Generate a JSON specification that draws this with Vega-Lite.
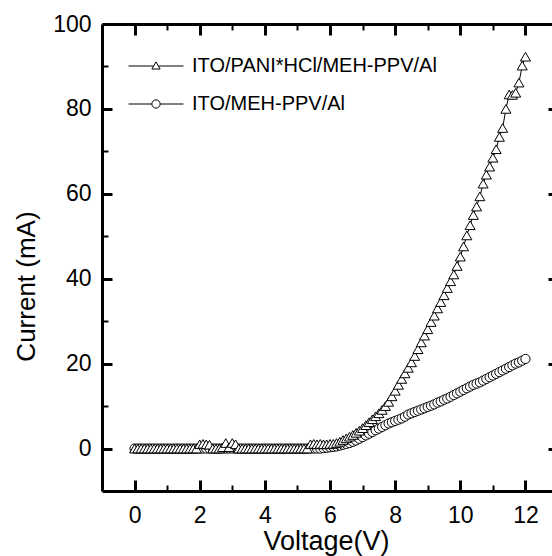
{
  "$schema": "https://vega.github.io/schema/vega-lite/v6.json",
  "width": 450,
  "height": 467,
  "autosize": {"type": "none"},
  "padding": {"left": 102, "top": 24, "right": 0, "bottom": 65},
  "background": "white",
  "config": {
    "view": {"stroke": null},
    "axis": {"labelFont": "Liberation Sans", "titleFont": "Liberation Sans", "labelColor": "black", "titleColor": "black", "domainColor": "black", "grid": false, "titleFontWeight": "normal"}
  },
  "data": {"values": [
    {"v":0,"i":0,"d":"ITO/PANI*HCl/MEH-PPV/Al"},{"v":0.1,"i":0,"d":"ITO/PANI*HCl/MEH-PPV/Al"},{"v":0.2,"i":0,"d":"ITO/PANI*HCl/MEH-PPV/Al"},{"v":0.3,"i":0,"d":"ITO/PANI*HCl/MEH-PPV/Al"},{"v":0.4,"i":0,"d":"ITO/PANI*HCl/MEH-PPV/Al"},{"v":0.5,"i":0,"d":"ITO/PANI*HCl/MEH-PPV/Al"},{"v":0.6,"i":0,"d":"ITO/PANI*HCl/MEH-PPV/Al"},{"v":0.7,"i":0,"d":"ITO/PANI*HCl/MEH-PPV/Al"},{"v":0.8,"i":0,"d":"ITO/PANI*HCl/MEH-PPV/Al"},{"v":0.9,"i":0,"d":"ITO/PANI*HCl/MEH-PPV/Al"},
    {"v":1,"i":0,"d":"ITO/PANI*HCl/MEH-PPV/Al"},{"v":1.1,"i":0,"d":"ITO/PANI*HCl/MEH-PPV/Al"},{"v":1.2,"i":0,"d":"ITO/PANI*HCl/MEH-PPV/Al"},{"v":1.3,"i":0,"d":"ITO/PANI*HCl/MEH-PPV/Al"},{"v":1.4,"i":0,"d":"ITO/PANI*HCl/MEH-PPV/Al"},{"v":1.5,"i":0,"d":"ITO/PANI*HCl/MEH-PPV/Al"},{"v":1.6,"i":0,"d":"ITO/PANI*HCl/MEH-PPV/Al"},{"v":1.7,"i":0,"d":"ITO/PANI*HCl/MEH-PPV/Al"},{"v":1.8,"i":0,"d":"ITO/PANI*HCl/MEH-PPV/Al"},{"v":1.9,"i":0,"d":"ITO/PANI*HCl/MEH-PPV/Al"},
    {"v":2,"i":1.0,"d":"ITO/PANI*HCl/MEH-PPV/Al"},{"v":2.1,"i":1.1,"d":"ITO/PANI*HCl/MEH-PPV/Al"},{"v":2.2,"i":1.0,"d":"ITO/PANI*HCl/MEH-PPV/Al"},{"v":2.3,"i":0.9,"d":"ITO/PANI*HCl/MEH-PPV/Al"},{"v":2.4,"i":0,"d":"ITO/PANI*HCl/MEH-PPV/Al"},{"v":2.5,"i":0,"d":"ITO/PANI*HCl/MEH-PPV/Al"},{"v":2.6,"i":0,"d":"ITO/PANI*HCl/MEH-PPV/Al"},{"v":2.7,"i":0.3,"d":"ITO/PANI*HCl/MEH-PPV/Al"},{"v":2.8,"i":1.3,"d":"ITO/PANI*HCl/MEH-PPV/Al"},{"v":2.9,"i":0.3,"d":"ITO/PANI*HCl/MEH-PPV/Al"},
    {"v":3,"i":1.3,"d":"ITO/PANI*HCl/MEH-PPV/Al"},{"v":3.1,"i":1.0,"d":"ITO/PANI*HCl/MEH-PPV/Al"},{"v":3.2,"i":0,"d":"ITO/PANI*HCl/MEH-PPV/Al"},{"v":3.3,"i":0,"d":"ITO/PANI*HCl/MEH-PPV/Al"},{"v":3.4,"i":0,"d":"ITO/PANI*HCl/MEH-PPV/Al"},{"v":3.5,"i":0,"d":"ITO/PANI*HCl/MEH-PPV/Al"},{"v":3.6,"i":0,"d":"ITO/PANI*HCl/MEH-PPV/Al"},{"v":3.7,"i":0,"d":"ITO/PANI*HCl/MEH-PPV/Al"},{"v":3.8,"i":0,"d":"ITO/PANI*HCl/MEH-PPV/Al"},{"v":3.9,"i":0,"d":"ITO/PANI*HCl/MEH-PPV/Al"},
    {"v":4,"i":0,"d":"ITO/PANI*HCl/MEH-PPV/Al"},{"v":4.1,"i":0,"d":"ITO/PANI*HCl/MEH-PPV/Al"},{"v":4.2,"i":0,"d":"ITO/PANI*HCl/MEH-PPV/Al"},{"v":4.3,"i":0,"d":"ITO/PANI*HCl/MEH-PPV/Al"},{"v":4.4,"i":0,"d":"ITO/PANI*HCl/MEH-PPV/Al"},{"v":4.5,"i":0,"d":"ITO/PANI*HCl/MEH-PPV/Al"},{"v":4.6,"i":0,"d":"ITO/PANI*HCl/MEH-PPV/Al"},{"v":4.7,"i":0,"d":"ITO/PANI*HCl/MEH-PPV/Al"},{"v":4.8,"i":0,"d":"ITO/PANI*HCl/MEH-PPV/Al"},{"v":4.9,"i":0,"d":"ITO/PANI*HCl/MEH-PPV/Al"},
    {"v":5,"i":0,"d":"ITO/PANI*HCl/MEH-PPV/Al"},{"v":5.1,"i":0,"d":"ITO/PANI*HCl/MEH-PPV/Al"},{"v":5.2,"i":0,"d":"ITO/PANI*HCl/MEH-PPV/Al"},{"v":5.3,"i":0,"d":"ITO/PANI*HCl/MEH-PPV/Al"},{"v":5.4,"i":1.0,"d":"ITO/PANI*HCl/MEH-PPV/Al"},{"v":5.5,"i":1.1,"d":"ITO/PANI*HCl/MEH-PPV/Al"},{"v":5.6,"i":1.0,"d":"ITO/PANI*HCl/MEH-PPV/Al"},{"v":5.7,"i":1.1,"d":"ITO/PANI*HCl/MEH-PPV/Al"},{"v":5.8,"i":1.0,"d":"ITO/PANI*HCl/MEH-PPV/Al"},{"v":5.9,"i":1.0,"d":"ITO/PANI*HCl/MEH-PPV/Al"},
    {"v":6,"i":1.1,"d":"ITO/PANI*HCl/MEH-PPV/Al"},{"v":6.1,"i":1.1,"d":"ITO/PANI*HCl/MEH-PPV/Al"},{"v":6.2,"i":1.3,"d":"ITO/PANI*HCl/MEH-PPV/Al"},{"v":6.3,"i":1.6,"d":"ITO/PANI*HCl/MEH-PPV/Al"},{"v":6.4,"i":2.0,"d":"ITO/PANI*HCl/MEH-PPV/Al"},{"v":6.5,"i":2.4,"d":"ITO/PANI*HCl/MEH-PPV/Al"},{"v":6.6,"i":2.8,"d":"ITO/PANI*HCl/MEH-PPV/Al"},{"v":6.7,"i":3.2,"d":"ITO/PANI*HCl/MEH-PPV/Al"},{"v":6.8,"i":3.7,"d":"ITO/PANI*HCl/MEH-PPV/Al"},{"v":6.9,"i":4.2,"d":"ITO/PANI*HCl/MEH-PPV/Al"},
    {"v":7,"i":4.8,"d":"ITO/PANI*HCl/MEH-PPV/Al"},{"v":7.1,"i":5.5,"d":"ITO/PANI*HCl/MEH-PPV/Al"},{"v":7.2,"i":6.2,"d":"ITO/PANI*HCl/MEH-PPV/Al"},{"v":7.3,"i":6.9,"d":"ITO/PANI*HCl/MEH-PPV/Al"},{"v":7.4,"i":7.6,"d":"ITO/PANI*HCl/MEH-PPV/Al"},{"v":7.5,"i":8.3,"d":"ITO/PANI*HCl/MEH-PPV/Al"},{"v":7.6,"i":9.1,"d":"ITO/PANI*HCl/MEH-PPV/Al"},{"v":7.7,"i":10.0,"d":"ITO/PANI*HCl/MEH-PPV/Al"},{"v":7.8,"i":11.0,"d":"ITO/PANI*HCl/MEH-PPV/Al"},{"v":7.9,"i":12.3,"d":"ITO/PANI*HCl/MEH-PPV/Al"},
    {"v":8,"i":13.6,"d":"ITO/PANI*HCl/MEH-PPV/Al"},{"v":8.1,"i":15.0,"d":"ITO/PANI*HCl/MEH-PPV/Al"},{"v":8.2,"i":16.4,"d":"ITO/PANI*HCl/MEH-PPV/Al"},{"v":8.3,"i":17.7,"d":"ITO/PANI*HCl/MEH-PPV/Al"},{"v":8.4,"i":19.0,"d":"ITO/PANI*HCl/MEH-PPV/Al"},{"v":8.5,"i":20.3,"d":"ITO/PANI*HCl/MEH-PPV/Al"},{"v":8.6,"i":21.8,"d":"ITO/PANI*HCl/MEH-PPV/Al"},{"v":8.7,"i":23.4,"d":"ITO/PANI*HCl/MEH-PPV/Al"},{"v":8.8,"i":25.0,"d":"ITO/PANI*HCl/MEH-PPV/Al"},{"v":8.9,"i":26.6,"d":"ITO/PANI*HCl/MEH-PPV/Al"},
    {"v":9,"i":28.1,"d":"ITO/PANI*HCl/MEH-PPV/Al"},{"v":9.1,"i":29.8,"d":"ITO/PANI*HCl/MEH-PPV/Al"},{"v":9.2,"i":31.3,"d":"ITO/PANI*HCl/MEH-PPV/Al"},{"v":9.3,"i":33.0,"d":"ITO/PANI*HCl/MEH-PPV/Al"},{"v":9.4,"i":34.5,"d":"ITO/PANI*HCl/MEH-PPV/Al"},{"v":9.5,"i":36.1,"d":"ITO/PANI*HCl/MEH-PPV/Al"},{"v":9.6,"i":37.8,"d":"ITO/PANI*HCl/MEH-PPV/Al"},{"v":9.7,"i":39.4,"d":"ITO/PANI*HCl/MEH-PPV/Al"},{"v":9.8,"i":41.0,"d":"ITO/PANI*HCl/MEH-PPV/Al"},{"v":9.9,"i":43.0,"d":"ITO/PANI*HCl/MEH-PPV/Al"},
    {"v":10,"i":45.2,"d":"ITO/PANI*HCl/MEH-PPV/Al"},{"v":10.1,"i":47.6,"d":"ITO/PANI*HCl/MEH-PPV/Al"},{"v":10.2,"i":50.2,"d":"ITO/PANI*HCl/MEH-PPV/Al"},{"v":10.3,"i":52.6,"d":"ITO/PANI*HCl/MEH-PPV/Al"},{"v":10.4,"i":55.0,"d":"ITO/PANI*HCl/MEH-PPV/Al"},{"v":10.5,"i":57.0,"d":"ITO/PANI*HCl/MEH-PPV/Al"},{"v":10.6,"i":59.4,"d":"ITO/PANI*HCl/MEH-PPV/Al"},{"v":10.7,"i":62.4,"d":"ITO/PANI*HCl/MEH-PPV/Al"},{"v":10.8,"i":64.5,"d":"ITO/PANI*HCl/MEH-PPV/Al"},{"v":10.9,"i":66.4,"d":"ITO/PANI*HCl/MEH-PPV/Al"},
    {"v":11,"i":68.5,"d":"ITO/PANI*HCl/MEH-PPV/Al"},{"v":11.1,"i":70.5,"d":"ITO/PANI*HCl/MEH-PPV/Al"},{"v":11.2,"i":73.4,"d":"ITO/PANI*HCl/MEH-PPV/Al"},{"v":11.3,"i":75.5,"d":"ITO/PANI*HCl/MEH-PPV/Al"},{"v":11.4,"i":80.0,"d":"ITO/PANI*HCl/MEH-PPV/Al"},{"v":11.5,"i":83.4,"d":"ITO/PANI*HCl/MEH-PPV/Al"},{"v":11.6,"i":83.3,"d":"ITO/PANI*HCl/MEH-PPV/Al"},{"v":11.7,"i":83.8,"d":"ITO/PANI*HCl/MEH-PPV/Al"},{"v":11.8,"i":86.2,"d":"ITO/PANI*HCl/MEH-PPV/Al"},{"v":11.9,"i":90.2,"d":"ITO/PANI*HCl/MEH-PPV/Al"},
    {"v":12,"i":92.3,"d":"ITO/PANI*HCl/MEH-PPV/Al"},
    {"v":0,"i":0,"d":"ITO/MEH-PPV/Al"},{"v":0.1,"i":0,"d":"ITO/MEH-PPV/Al"},{"v":0.2,"i":0,"d":"ITO/MEH-PPV/Al"},{"v":0.3,"i":0,"d":"ITO/MEH-PPV/Al"},{"v":0.4,"i":0,"d":"ITO/MEH-PPV/Al"},{"v":0.5,"i":0,"d":"ITO/MEH-PPV/Al"},{"v":0.6,"i":0,"d":"ITO/MEH-PPV/Al"},{"v":0.7,"i":0,"d":"ITO/MEH-PPV/Al"},{"v":0.8,"i":0,"d":"ITO/MEH-PPV/Al"},{"v":0.9,"i":0,"d":"ITO/MEH-PPV/Al"},
    {"v":1,"i":0,"d":"ITO/MEH-PPV/Al"},{"v":1.1,"i":0,"d":"ITO/MEH-PPV/Al"},{"v":1.2,"i":0,"d":"ITO/MEH-PPV/Al"},{"v":1.3,"i":0,"d":"ITO/MEH-PPV/Al"},{"v":1.4,"i":0,"d":"ITO/MEH-PPV/Al"},{"v":1.5,"i":0,"d":"ITO/MEH-PPV/Al"},{"v":1.6,"i":0,"d":"ITO/MEH-PPV/Al"},{"v":1.7,"i":0,"d":"ITO/MEH-PPV/Al"},{"v":1.8,"i":0,"d":"ITO/MEH-PPV/Al"},{"v":1.9,"i":0,"d":"ITO/MEH-PPV/Al"},
    {"v":2,"i":0,"d":"ITO/MEH-PPV/Al"},{"v":2.1,"i":0,"d":"ITO/MEH-PPV/Al"},{"v":2.2,"i":0,"d":"ITO/MEH-PPV/Al"},{"v":2.3,"i":0,"d":"ITO/MEH-PPV/Al"},{"v":2.4,"i":0,"d":"ITO/MEH-PPV/Al"},{"v":2.5,"i":0,"d":"ITO/MEH-PPV/Al"},{"v":2.6,"i":0,"d":"ITO/MEH-PPV/Al"},{"v":2.7,"i":0,"d":"ITO/MEH-PPV/Al"},{"v":2.8,"i":0,"d":"ITO/MEH-PPV/Al"},{"v":2.9,"i":0,"d":"ITO/MEH-PPV/Al"},
    {"v":3,"i":0,"d":"ITO/MEH-PPV/Al"},{"v":3.1,"i":0,"d":"ITO/MEH-PPV/Al"},{"v":3.2,"i":0,"d":"ITO/MEH-PPV/Al"},{"v":3.3,"i":0,"d":"ITO/MEH-PPV/Al"},{"v":3.4,"i":0,"d":"ITO/MEH-PPV/Al"},{"v":3.5,"i":0,"d":"ITO/MEH-PPV/Al"},{"v":3.6,"i":0,"d":"ITO/MEH-PPV/Al"},{"v":3.7,"i":0,"d":"ITO/MEH-PPV/Al"},{"v":3.8,"i":0,"d":"ITO/MEH-PPV/Al"},{"v":3.9,"i":0,"d":"ITO/MEH-PPV/Al"},
    {"v":4,"i":0,"d":"ITO/MEH-PPV/Al"},{"v":4.1,"i":0,"d":"ITO/MEH-PPV/Al"},{"v":4.2,"i":0,"d":"ITO/MEH-PPV/Al"},{"v":4.3,"i":0,"d":"ITO/MEH-PPV/Al"},{"v":4.4,"i":0,"d":"ITO/MEH-PPV/Al"},{"v":4.5,"i":0,"d":"ITO/MEH-PPV/Al"},{"v":4.6,"i":0,"d":"ITO/MEH-PPV/Al"},{"v":4.7,"i":0,"d":"ITO/MEH-PPV/Al"},{"v":4.8,"i":0,"d":"ITO/MEH-PPV/Al"},{"v":4.9,"i":0,"d":"ITO/MEH-PPV/Al"},
    {"v":5,"i":0,"d":"ITO/MEH-PPV/Al"},{"v":5.1,"i":0,"d":"ITO/MEH-PPV/Al"},{"v":5.2,"i":0,"d":"ITO/MEH-PPV/Al"},{"v":5.3,"i":0,"d":"ITO/MEH-PPV/Al"},{"v":5.4,"i":0,"d":"ITO/MEH-PPV/Al"},{"v":5.5,"i":0,"d":"ITO/MEH-PPV/Al"},{"v":5.6,"i":0,"d":"ITO/MEH-PPV/Al"},{"v":5.7,"i":0,"d":"ITO/MEH-PPV/Al"},{"v":5.8,"i":0.1,"d":"ITO/MEH-PPV/Al"},{"v":5.9,"i":0.2,"d":"ITO/MEH-PPV/Al"},
    {"v":6,"i":0.3,"d":"ITO/MEH-PPV/Al"},{"v":6.1,"i":0.4,"d":"ITO/MEH-PPV/Al"},{"v":6.2,"i":0.5,"d":"ITO/MEH-PPV/Al"},{"v":6.3,"i":0.7,"d":"ITO/MEH-PPV/Al"},{"v":6.4,"i":0.9,"d":"ITO/MEH-PPV/Al"},{"v":6.5,"i":1.1,"d":"ITO/MEH-PPV/Al"},{"v":6.6,"i":1.3,"d":"ITO/MEH-PPV/Al"},{"v":6.7,"i":1.6,"d":"ITO/MEH-PPV/Al"},{"v":6.8,"i":1.9,"d":"ITO/MEH-PPV/Al"},{"v":6.9,"i":2.3,"d":"ITO/MEH-PPV/Al"},
    {"v":7,"i":2.7,"d":"ITO/MEH-PPV/Al"},{"v":7.1,"i":3.1,"d":"ITO/MEH-PPV/Al"},{"v":7.2,"i":3.5,"d":"ITO/MEH-PPV/Al"},{"v":7.3,"i":3.9,"d":"ITO/MEH-PPV/Al"},{"v":7.4,"i":4.3,"d":"ITO/MEH-PPV/Al"},{"v":7.5,"i":4.7,"d":"ITO/MEH-PPV/Al"},{"v":7.6,"i":5.1,"d":"ITO/MEH-PPV/Al"},{"v":7.7,"i":5.5,"d":"ITO/MEH-PPV/Al"},{"v":7.8,"i":5.9,"d":"ITO/MEH-PPV/Al"},{"v":7.9,"i":6.2,"d":"ITO/MEH-PPV/Al"},
    {"v":8,"i":6.5,"d":"ITO/MEH-PPV/Al"},{"v":8.1,"i":6.8,"d":"ITO/MEH-PPV/Al"},{"v":8.2,"i":7.1,"d":"ITO/MEH-PPV/Al"},{"v":8.3,"i":7.5,"d":"ITO/MEH-PPV/Al"},{"v":8.4,"i":8.0,"d":"ITO/MEH-PPV/Al"},{"v":8.5,"i":8.3,"d":"ITO/MEH-PPV/Al"},{"v":8.6,"i":8.6,"d":"ITO/MEH-PPV/Al"},{"v":8.7,"i":8.9,"d":"ITO/MEH-PPV/Al"},{"v":8.8,"i":9.2,"d":"ITO/MEH-PPV/Al"},{"v":8.9,"i":9.5,"d":"ITO/MEH-PPV/Al"},
    {"v":9,"i":9.8,"d":"ITO/MEH-PPV/Al"},{"v":9.1,"i":10.1,"d":"ITO/MEH-PPV/Al"},{"v":9.2,"i":10.4,"d":"ITO/MEH-PPV/Al"},{"v":9.3,"i":10.8,"d":"ITO/MEH-PPV/Al"},{"v":9.4,"i":11.1,"d":"ITO/MEH-PPV/Al"},{"v":9.5,"i":11.5,"d":"ITO/MEH-PPV/Al"},{"v":9.6,"i":11.8,"d":"ITO/MEH-PPV/Al"},{"v":9.7,"i":12.2,"d":"ITO/MEH-PPV/Al"},{"v":9.8,"i":12.6,"d":"ITO/MEH-PPV/Al"},{"v":9.9,"i":13.0,"d":"ITO/MEH-PPV/Al"},
    {"v":10,"i":13.4,"d":"ITO/MEH-PPV/Al"},{"v":10.1,"i":13.8,"d":"ITO/MEH-PPV/Al"},{"v":10.2,"i":14.2,"d":"ITO/MEH-PPV/Al"},{"v":10.3,"i":14.6,"d":"ITO/MEH-PPV/Al"},{"v":10.4,"i":15.0,"d":"ITO/MEH-PPV/Al"},{"v":10.5,"i":15.3,"d":"ITO/MEH-PPV/Al"},{"v":10.6,"i":15.6,"d":"ITO/MEH-PPV/Al"},{"v":10.7,"i":16.0,"d":"ITO/MEH-PPV/Al"},{"v":10.8,"i":16.4,"d":"ITO/MEH-PPV/Al"},{"v":10.9,"i":16.8,"d":"ITO/MEH-PPV/Al"},
    {"v":11,"i":17.2,"d":"ITO/MEH-PPV/Al"},{"v":11.1,"i":17.6,"d":"ITO/MEH-PPV/Al"},{"v":11.2,"i":18.0,"d":"ITO/MEH-PPV/Al"},{"v":11.3,"i":18.4,"d":"ITO/MEH-PPV/Al"},{"v":11.4,"i":18.8,"d":"ITO/MEH-PPV/Al"},{"v":11.5,"i":19.2,"d":"ITO/MEH-PPV/Al"},{"v":11.6,"i":19.6,"d":"ITO/MEH-PPV/Al"},{"v":11.7,"i":20.0,"d":"ITO/MEH-PPV/Al"},{"v":11.8,"i":20.3,"d":"ITO/MEH-PPV/Al"},{"v":11.9,"i":20.7,"d":"ITO/MEH-PPV/Al"},
    {"v":12,"i":21.1,"d":"ITO/MEH-PPV/Al"}
  ]},
  "resolve": {"axis": {"x": "independent", "y": "independent"}},
  "layer": [
    {
      "mark": {"type": "line", "color": "black", "strokeWidth": 1},
      "encoding": {
        "x": {"field": "v", "type": "quantitative", "scale": {"domain": [-1, 12.815], "nice": false, "zero": false},
          "axis": {"orient": "bottom", "values": [0, 2, 4, 6, 8, 10, 12], "tickSize": 0, "labelFontSize": 23, "labelPadding": 13, "domainWidth": 3, "title": "Voltage(V)", "titleFontSize": 27, "titleX": 224, "titleY": 58, "titleBaseline": "alphabetic"}},
        "y": {"field": "i", "type": "quantitative", "scale": {"domain": [-10, 100], "nice": false, "zero": false},
          "axis": {"orient": "left", "values": [0, 20, 40, 60, 80, 100], "tickSize": 0, "labelFontSize": 23, "labelPadding": 11, "domainWidth": 3, "title": "Current (mA)", "titleFontSize": 26, "titleX": -68, "titleY": 262, "titleBaseline": "alphabetic", "titleAngle": -90}},
        "detail": {"field": "d"}
      }
    },
    {
      "mark": {"type": "point", "opacity": 0},
      "encoding": {
        "x": {"field": "v", "type": "quantitative",
          "axis": {"orient": "bottom", "offset": -11, "values": [0, 2, 4, 6, 8, 10, 12], "tickSize": 11, "tickWidth": 3, "tickColor": "black", "labels": false, "domain": false, "title": null}},
        "y": {"field": "i", "type": "quantitative",
          "axis": {"orient": "left", "offset": -10, "values": [0, 20, 40, 60, 80, 100], "tickSize": 10, "tickWidth": 3, "tickColor": "black", "labels": false, "domain": false, "title": null}}
      }
    },
    {
      "mark": {"type": "point", "opacity": 0},
      "encoding": {
        "x": {"field": "v", "type": "quantitative",
          "axis": {"orient": "bottom", "offset": -6, "values": [1, 3, 5, 7, 9, 11], "tickSize": 6, "tickWidth": 2, "tickColor": "black", "labels": false, "domain": false, "title": null}},
        "y": {"field": "i", "type": "quantitative",
          "axis": {"orient": "left", "offset": -6, "values": [10, 30, 50, 70, 90], "tickSize": 6, "tickWidth": 2, "tickColor": "black", "labels": false, "domain": false, "title": null}}
      }
    },
    {
      "mark": {"type": "point", "opacity": 0},
      "encoding": {
        "x": {"field": "v", "type": "quantitative",
          "axis": {"orient": "top", "values": [0, 2, 4, 6, 8, 10, 12], "tickSize": 0, "labels": false, "domainWidth": 3, "title": null}},
        "y": {"field": "i", "type": "quantitative",
          "axis": {"orient": "right", "offset": -4, "values": [0, 20, 40, 60, 80], "tickSize": 4, "tickWidth": 3, "tickColor": "black", "labels": false, "domain": false, "title": null}}
      }
    },
    {
      "mark": {"type": "point", "opacity": 0},
      "encoding": {
        "x": {"field": "v", "type": "quantitative",
          "axis": {"orient": "top", "offset": -11, "values": [0, 2, 4, 6, 8, 10, 12], "tickSize": 11, "tickWidth": 3, "tickColor": "black", "labels": false, "domain": false, "title": null}},
        "y": {"field": "i", "type": "quantitative", "axis": null}
      }
    },
    {
      "mark": {"type": "point", "opacity": 0},
      "encoding": {
        "x": {"field": "v", "type": "quantitative",
          "axis": {"orient": "top", "offset": -6, "values": [1, 3, 5, 7, 9, 11], "tickSize": 6, "tickWidth": 2, "tickColor": "black", "labels": false, "domain": false, "title": null}},
        "y": {"field": "i", "type": "quantitative", "axis": null}
      }
    },
    {
      "transform": [{"filter": "datum.d === 'ITO/MEH-PPV/Al'"}],
      "mark": {"type": "point", "shape": "circle", "filled": true, "fill": "white", "stroke": "black", "strokeWidth": 1, "size": 85, "opacity": 1},
      "encoding": {
        "x": {"field": "v", "type": "quantitative", "axis": null},
        "y": {"field": "i", "type": "quantitative", "axis": null}
      }
    },
    {
      "transform": [{"filter": "datum.d === 'ITO/PANI*HCl/MEH-PPV/Al'"}],
      "mark": {"type": "point", "shape": "triangle-up", "filled": true, "fill": "white", "stroke": "black", "strokeWidth": 1, "size": 100, "opacity": 1},
      "encoding": {
        "x": {"field": "v", "type": "quantitative", "axis": null},
        "y": {"field": "i", "type": "quantitative", "axis": null}
      }
    },
    {
      "mark": {"type": "point", "opacity": 0, "filled": false},
      "encoding": {
        "x": {"field": "v", "type": "quantitative", "axis": null},
        "y": {"field": "i", "type": "quantitative", "axis": null},
        "shape": {"field": "d", "type": "nominal",
          "scale": {"domain": ["ITO/PANI*HCl/MEH-PPV/Al", "ITO/MEH-PPV/Al"],
            "range": ["M-1,0L-0.09,0M0.09,0L1,0M0,-0.15L-0.15,0.11L0.15,0.11Z", "M-1,0L-0.15,0M0.15,0L1,0M-0.15,0A0.15,0.15,0,1,1,0.15,0A0.15,0.15,0,1,1,-0.15,0Z"]},
          "legend": {"orient": "none", "legendX": 26, "legendY": 14, "title": null, "padding": 0, "symbolSize": 3025, "symbolOpacity": 1, "symbolFillColor": "white", "symbolStrokeColor": "black", "symbolStrokeWidth": 1, "labelFont": "Liberation Sans", "labelColor": "black", "labelFontSize": 20, "labelOffset": 8, "labelLimit": 500, "rowPadding": -8}}
      }
    }
  ]
}
